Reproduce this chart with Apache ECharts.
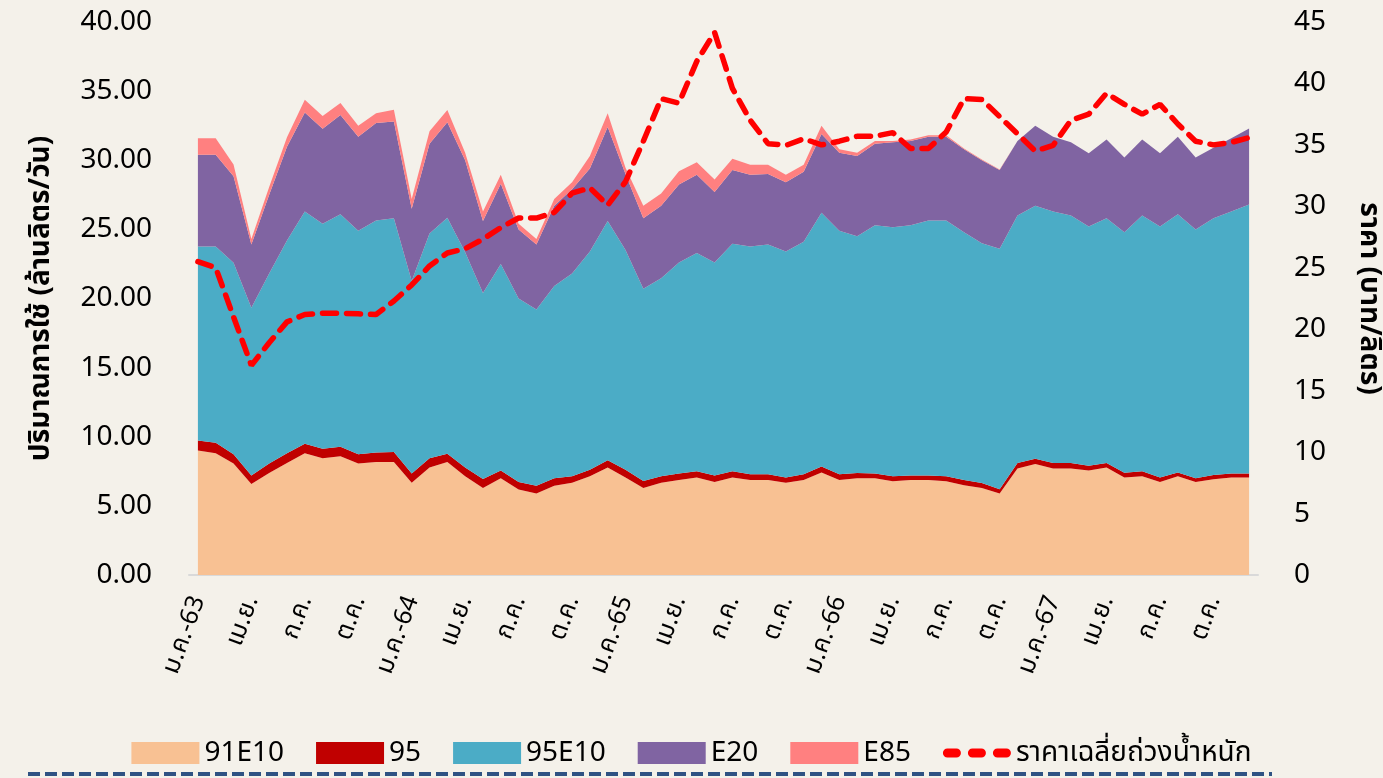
<!DOCTYPE html>
<html>
<head>
<meta charset="utf-8">
<script src="https://cdn.jsdelivr.net/npm/echarts@6/dist/echarts.min.js"></script>
<style>
  html, body { margin: 0; padding: 0; background: #f4f1ea; }
  #chart { width: 1383px; height: 778px; }
</style>
</head>
<body>
<div id="chart"></div>
<script>
// month labels, Thai Buddhist years 63..67
const monthNames = ["ม.ค.", "ก.พ.", "มี.ค.", "เม.ย.", "พ.ค.", "มิ.ย.", "ก.ค.", "ส.ค.", "ก.ย.", "ต.ค.", "พ.ย.", "ธ.ค."];
const years = ["63", "64", "65", "66", "67"];

// ล้านลิตร/วัน
const g91e10 = [9.0, 8.81, 8.06, 6.59, 7.37, 8.1, 8.8, 8.45, 8.59, 8.06, 8.17, 8.17,
  6.68, 7.78, 8.17, 7.15, 6.3, 7.0, 6.18, 5.9, 6.45, 6.68, 7.15, 7.78,
  7.06, 6.3, 6.68, 6.87, 7.06, 6.73, 7.06, 6.87, 6.87, 6.68, 6.87, 7.42,
  6.87, 7.0, 7.0, 6.78, 6.87, 6.87, 6.78, 6.5, 6.3, 5.9, 7.7, 8.03,
  7.7, 7.7, 7.56, 7.78, 7.06, 7.15, 6.73, 7.15, 6.73, 6.93, 7.06, 7.06];
const g95 = [0.72, 0.75, 0.67, 0.61, 0.69, 0.7, 0.7, 0.69, 0.69, 0.67, 0.69, 0.73,
  0.66, 0.67, 0.6, 0.63, 0.65, 0.56, 0.55, 0.55, 0.55, 0.47, 0.47, 0.52,
  0.56, 0.5, 0.47, 0.47, 0.44, 0.47, 0.44, 0.41, 0.41, 0.38, 0.41, 0.42,
  0.41, 0.37, 0.34, 0.37, 0.33, 0.33, 0.37, 0.37, 0.35, 0.3, 0.4, 0.37,
  0.4, 0.4, 0.34, 0.32, 0.34, 0.35, 0.33, 0.27, 0.27, 0.3, 0.28, 0.28];
const g95e10 = [14.05, 14.21, 13.85, 12.13, 13.74, 15.4, 16.8, 16.26, 16.82, 16.17, 16.79, 16.9,
  13.93, 16.25, 17.07, 15.57, 13.45, 14.94, 13.27, 12.75, 13.9, 14.65, 15.78, 17.3,
  15.88, 13.9, 14.32, 15.26, 15.8, 15.4, 16.46, 16.49, 16.62, 16.34, 16.82, 18.36,
  17.62, 17.13, 17.96, 18.0, 18.1, 18.45, 18.5, 17.93, 17.35, 17.4, 17.9, 18.3,
  18.2, 17.9, 17.3, 17.7, 17.4, 18.5, 18.14, 18.68, 18.0, 18.57, 18.96, 19.46];
const e20 = [6.63, 6.63, 6.26, 4.57, 5.7, 6.77, 7.16, 6.87, 7.17, 6.8, 7.05, 7.0,
  5.23, 6.5, 6.9, 6.65, 5.2, 5.8, 5.0, 4.7, 5.8, 6.1, 6.0, 6.8,
  5.5, 5.1, 5.23, 5.65, 5.65, 5.1, 5.34, 5.18, 5.1, 5.0, 5.07, 5.7,
  5.65, 5.8, 5.9, 6.15, 6.1, 6.05, 6.05, 6.0, 6.0, 5.7, 5.4, 5.8,
  5.4, 5.3, 5.3, 5.7, 5.4, 5.5, 5.3, 5.6, 5.2, 5.1, 5.3, 5.5];
const e85 = [1.2, 1.2, 0.86, 0.4, 0.56, 0.69, 0.92, 0.93, 0.88, 0.8, 0.7, 0.86,
  0.7, 0.9, 0.9, 0.55, 0.7, 0.65, 0.4, 0.4, 0.5, 0.5, 0.9, 1.0,
  0.45, 0.9, 0.9, 0.95, 0.91, 0.9, 0.8, 0.72, 0.67, 0.55, 0.5, 0.6,
  0.25, 0.25, 0.2, 0.1, 0.1, 0.1, 0.1, 0.05, 0.05, 0.03, 0, 0,
  0, 0, 0, 0, 0, 0, 0, 0, 0, 0, 0, 0];
// บาท/ลิตร
const avgPrice = [25.5, 25.0, 21.0, 17.06, 18.9, 20.6, 21.2, 21.3, 21.3, 21.25, 21.2, 22.3,
  23.6, 25.15, 26.2, 26.55, 27.33, 28.27, 29.05, 29.05, 29.5, 31.07, 31.5, 30.1,
  32.0, 35.3, 38.76, 38.4, 41.8, 44.15, 39.6, 37.0, 35.1, 34.96, 35.5, 35.0,
  35.3, 35.7, 35.7, 36.0, 34.7, 34.7, 36.05, 38.76, 38.7, 37.3, 35.9, 34.5,
  34.96, 37.0, 37.5, 39.2, 38.3, 37.5, 38.3, 36.7, 35.3, 35.0, 35.2, 35.6];

const categories = [];
years.forEach(y => monthNames.forEach((m, i) => categories.push(i === 0 ? m + "-" + y : m)));

const font = "'Noto Sans', 'Noto Sans Thai', sans-serif";

// three rounded dashes for the price legend icon (first two moves pin the box)
const dashIcon = "path://M0,0M68,22" +
  "M4.5,6.5h9a4.5,4.5 0 0 1 0,9h-9a4.5,4.5 0 0 1 0,-9z" +
  "M29.5,6.5h9a4.5,4.5 0 0 1 0,9h-9a4.5,4.5 0 0 1 0,-9z" +
  "M54.5,6.5h9a4.5,4.5 0 0 1 0,9h-9a4.5,4.5 0 0 1 0,-9z";

const chart = echarts.init(document.getElementById("chart"));

const area = (name, data, color) => ({
  name: name,
  type: "line",
  stack: "vol",
  data: data,
  symbol: "none",
  lineStyle: { width: 0 },
  areaStyle: { color: color, opacity: 1 },
  itemStyle: { color: color },
});

const option = {
  backgroundColor: "#f4f1ea",
  animation: false,
  textStyle: { fontFamily: font, color: "#000" },
  grid: { left: 189, right: 125, top: 22, bottom: 203, outerBoundsMode: "none" },
  legend: {
    top: 734,
    left: "center",
    itemWidth: 68,
    itemHeight: 22,
    itemGap: 32,
    textStyle: { fontSize: 28, color: "#000", fontFamily: font },
    data: [
      { name: "91E10", icon: "rect" },
      { name: "95", icon: "rect" },
      { name: "95E10", icon: "rect" },
      { name: "E20", icon: "rect" },
      { name: "E85", icon: "rect" },
      { name: "ราคาเฉลี่ยถ่วงน้ำหนัก", icon: dashIcon },
    ],
  },
  xAxis: {
    type: "category",
    data: categories,
    boundaryGap: true,
    axisLine: { lineStyle: { color: "#d9d9d9", width: 2 } },
    axisTick: { show: false },
    axisLabel: {
      interval: 2,
      rotate: 70,
      fontSize: 25,
      color: "#000",
      margin: 22,
    },
  },
  yAxis: [
    {
      type: "value",
      min: 0,
      max: 40,
      interval: 5,
      name: "ปริมาณการใช้ (ล้านลิตร/วัน)",
      nameLocation: "middle",
      nameGap: 134,
      nameTextStyle: { fontSize: 28, fontWeight: "bold", color: "#000" },
      axisLine: { show: false },
      axisTick: { show: false },
      splitLine: { show: false },
      axisLabel: {
        fontSize: 28,
        color: "#000",
        margin: 37,
        formatter: v => v.toFixed(2),
      },
    },
    {
      type: "value",
      min: 0,
      max: 45,
      interval: 5,
      name: "ราคา (บาท/ลิตร)",
      nameLocation: "middle",
      nameRotate: -90,
      nameGap: 97,
      nameTextStyle: { fontSize: 28, fontWeight: "bold", color: "#000" },
      axisLine: { show: false },
      axisTick: { show: false },
      splitLine: { show: false },
      axisLabel: { fontSize: 28, color: "#000", margin: 36 },
    },
  ],
  series: [
    area("91E10", g91e10, "#f8c193"),
    area("95", g95, "#c00000"),
    area("95E10", g95e10, "#4bacc6"),
    area("E20", e20, "#8064a2"),
    area("E85", e85, "#ff8080"),
    {
      name: "ราคาเฉลี่ยถ่วงน้ำหนัก",
      type: "line",
      yAxisIndex: 1,
      data: avgPrice,
      symbol: "none",
      z: 5,
      itemStyle: { color: "#ff0000" },
      lineStyle: { color: "#ff0000", width: 5.5, type: [14, 10], cap: "round" },
    },
  ],
  graphic: [
    {
      type: "line",
      shape: { x1: 28, y1: 774, x2: 1272, y2: 774 },
      style: { stroke: "#2f5283", lineWidth: 4, lineDash: [12, 5] },
    },
  ],
};

chart.setOption(option);
</script>
</body>
</html>
